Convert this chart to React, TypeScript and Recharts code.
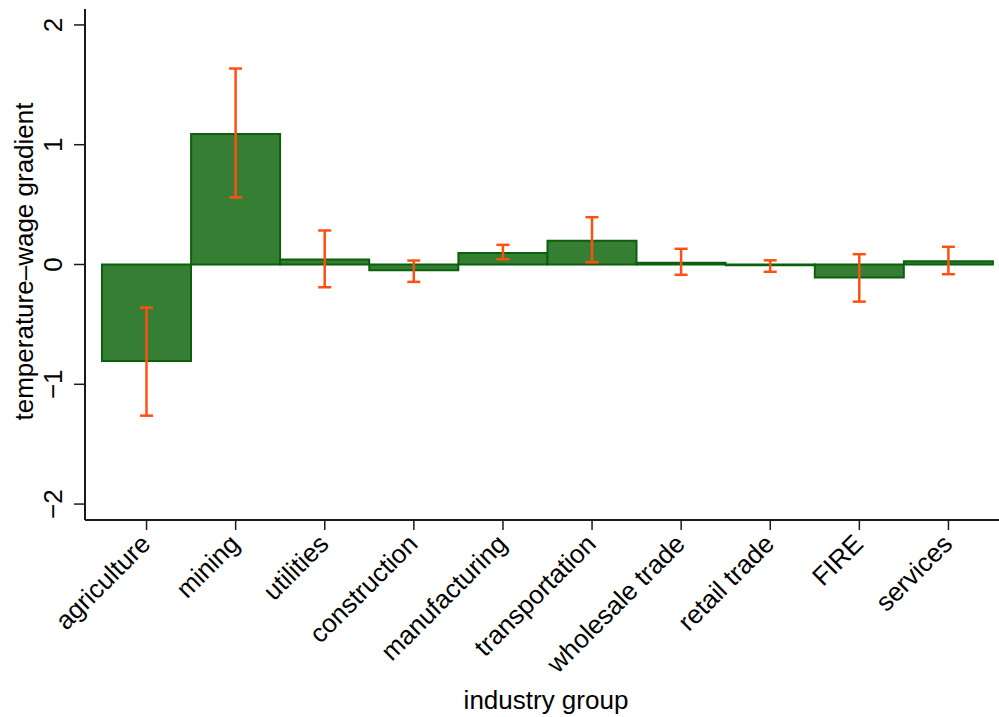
import React from 'react';
import {
  BarChart,
  Bar,
  ErrorBar,
  XAxis,
  YAxis,
  Label,
} from 'recharts';

// industry groups, point estimates and 95% interval bounds
const industries = [
  'agriculture',
  'mining',
  'utilities',
  'construction',
  'manufacturing',
  'transportation',
  'wholesale trade',
  'retail trade',
  'FIRE',
  'services',
];
const gradient = [-0.805, 1.09, 0.042, -0.048, 0.095, 0.198, 0.014, -0.006, -0.108, 0.028];
const ciLow = [-1.262, 0.56, -0.19, -0.145, 0.044, 0.019, -0.086, -0.061, -0.31, -0.081];
const ciHigh = [-0.36, 1.636, 0.284, 0.033, 0.164, 0.395, 0.131, 0.035, 0.086, 0.148];
const yTicks = [-2, -1, 0, 1, 2];

const data = industries.map((name, i) => ({
  name,
  value: gradient[i],
  // ErrorBar wants distances below / above the estimate
  err: [gradient[i] - ciLow[i], ciHigh[i] - gradient[i]],
}));

const FONT = '"Liberation Sans", Arial, Helvetica, sans-serif';
const AXIS = '#1a1a1a';

// negative numbers get a proper minus sign
const fmt = (v: number) => (v < 0 ? `\u2212${Math.abs(v)}` : `${v}`);

const YTick = (props: any) => {
  const { x, y, payload } = props;
  return (
    <text
      x={x}
      y={y}
      transform={`rotate(-90, ${x}, ${y})`}
      textAnchor="middle"
      fontSize={26}
      fontFamily={FONT}
      fill="#000"
    >
      {fmt(payload.value)}
    </text>
  );
};

const XTick = (props: any) => {
  const { x, y, payload } = props;
  const px = x - 1;
  const py = y + 9;
  return (
    <text
      x={px}
      y={py}
      dy="0.35em"
      transform={`rotate(-45, ${px}, ${py})`}
      textAnchor="end"
      fontSize={26}
      fontFamily={FONT}
      fill="#000"
    >
      {payload.value}
    </text>
  );
};

const YTitle = (props: any) => {
  const { viewBox } = props;
  const cx = 33;
  const cy = viewBox.y + viewBox.height / 2 - 3;
  return (
    <text
      x={cx}
      y={cy}
      transform={`rotate(-90, ${cx}, ${cy})`}
      textAnchor="middle"
      fontSize={26}
      fontFamily={FONT}
      fill="#000"
    >
      temperature–wage gradient
    </text>
  );
};

export default function App() {
  return (
    <div style={{ position: 'absolute', left: 0, top: 0, width: 999, height: 717, background: '#fff' }}>
      <BarChart
        width={999}
        height={717}
        data={data}
        margin={{ top: 9, right: 0, bottom: 0, left: 0 }}
        barCategoryGap={0}
      >
        <XAxis
          dataKey="name"
          height={197}
          padding={{ left: 17, right: 6 }}
          interval={0}
          tickSize={10}
          tickMargin={0}
          tick={<XTick />}
          axisLine={{ stroke: AXIS, strokeWidth: 2 }}
          tickLine={{ stroke: AXIS, strokeWidth: 1.5 }}
        >
          <Label
            value="industry group"
            position="insideBottom"
            offset={8}
            dx={4}
            fontSize={26}
            fontFamily={FONT}
            fill="#000"
          />
        </XAxis>
        {/* frame line along the top of the plot region */}
        <XAxis
          xAxisId="top"
          orientation="top"
          dataKey="name"
          height={0}
          tick={false}
          tickLine={false}
          axisLine={{ stroke: AXIS, strokeWidth: 2 }}
        />
        <YAxis
          width={85}
          domain={[-2.133, 2.133]}
          ticks={yTicks}
          allowDataOverflow
          tickSize={11}
          tickMargin={12}
          tick={<YTick />}
          axisLine={{ stroke: AXIS, strokeWidth: 2 }}
          tickLine={{ stroke: AXIS, strokeWidth: 1.5 }}
        >
          <Label content={<YTitle />} />
        </YAxis>
        <Bar
          dataKey="value"
          fill="#367e33"
          stroke="#0b600b"
          strokeWidth={2}
          isAnimationActive={false}
        >
          <ErrorBar
            dataKey="err"
            direction="y"
            width={6.5}
            stroke="#ff5014"
            strokeWidth={2.5}
            isAnimationActive={false}
          />
        </Bar>
      </BarChart>
    </div>
  );
}
